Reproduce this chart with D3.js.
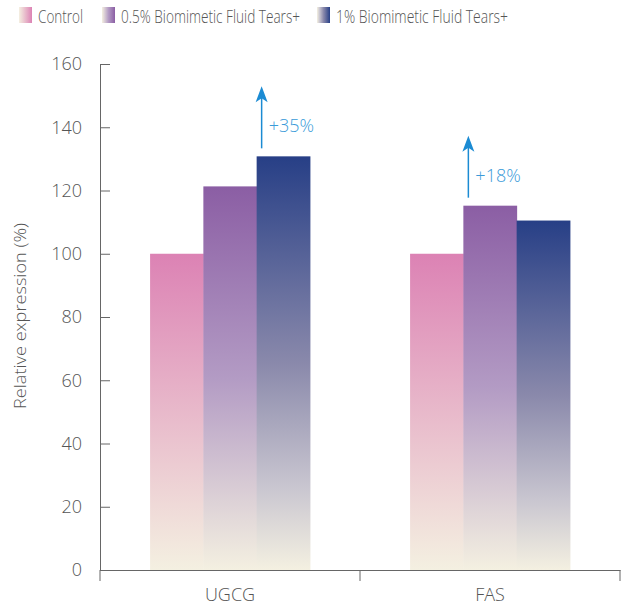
<!DOCTYPE html>
<html>
<head>
<meta charset="utf-8">
<script src="https://cdn.jsdelivr.net/npm/d3@7"></script>
<style>
  body { margin: 0; background: #fff; }
  text { font-family: "Open Sans", "Noto Sans", sans-serif; font-weight: 300; fill: #555; }
</style>
</head>
<body>
<div id="svg"></div>
<script>
var w = 630;
var h = 609;

var categories = ['UGCG', 'FAS'];
var series = ['Control', '0.5% Biomimetic Fluid Tears+', '1% Biomimetic Fluid Tears+'];
var control = [100, 100];
var half = [121.3, 115.2];
var full = [130.8, 110.5];
var yTicks = [0, 20, 40, 60, 80, 100, 120, 140, 160];
// gradient stops per series, top to bottom
var gradStops = [
  [[0, '#dc82b4'], [1, '#f4f0e1']],
  [[0, '#8b5ea4'], [0.5, '#b39bc4'], [1, '#f4f0e1']],
  [[0, '#273f86'], [0.5, '#8a89ab'], [0.8, '#c9c6d0'], [1, '#f4f0e1']]
];
var notes = [
  { cat: 'UGCG', s: 2, label: '+35%' },
  { cat: 'FAS', s: 1, label: '+18%' }
];

var values = [control, half, full];

var border = { top: 64, bottom: 39, left: 100, right: 10 };

const svg = d3.select('#svg')
  .append('svg')
  .attr('width', w)
  .attr('height', h);

var defs = svg.append('defs');
gradStops.forEach((stops, i) => {
  var g = defs.append('linearGradient')
    .attr('id', 'bar' + i)
    .attr('x1', 0).attr('y1', 0).attr('x2', 0).attr('y2', 1);
  stops.forEach(s => g.append('stop').attr('offset', s[0]).attr('stop-color', s[1]));
  var l = defs.append('linearGradient')
    .attr('id', 'leg' + i)
    .attr('x1', 1).attr('y1', 0).attr('x2', 0).attr('y2', 0);
  stops.forEach(s => l.append('stop').attr('offset', s[0]).attr('stop-color', s[1]));
});

// arrow head pointing along +x, oriented by the line
var marker = defs.append('marker')
  .attr('id', 'arrow')
  .attr('viewBox', '-8 -7 18 14')
  .attr('markerWidth', 18).attr('markerHeight', 14)
  .attr('markerUnits', 'userSpaceOnUse')
  .attr('refX', 0).attr('refY', 0)
  .attr('orient', 'auto');
marker.append('path')
  .attr('d', 'M9,0 L-7,6 L-3,0 L-7,-6 Z')
  .attr('fill', '#1b8bd3');

var x0 = d3.scaleBand()
  .domain(categories)
  .range([border.left, w - border.right]);

var x1 = d3.scaleBand()
  .domain(series)
  .range([0, x0.bandwidth()])
  .paddingOuter(0.94);

var y = d3.scaleLinear()
  .domain([0, 160])
  .range([h - border.bottom, border.top]);

// bars
var groups = svg.selectAll('g.group')
  .data(categories)
  .enter()
  .append('g')
  .attr('class', 'group')
  .attr('transform', d => `translate(${x0(d)},0)`);

groups.selectAll('rect')
  .data((c, ci) => series.map((s, si) => ({ s: s, si: si, v: values[si][ci] })))
  .enter()
  .append('rect')
  .attr('x', d => x1(d.s))
  .attr('y', d => y(d.v))
  .attr('width', x1.bandwidth() + 0.5)
  .attr('height', d => y(0) - y(d.v))
  .attr('fill', d => `url(#bar${d.si})`);

// y axis
var yAxis = svg.append('g')
  .attr('transform', `translate(${border.left},0)`)
  .call(d3.axisLeft(y).tickValues(yTicks).tickSize(-10).tickPadding(18).tickSizeOuter(0));
yAxis.selectAll('line').attr('stroke', '#666');
yAxis.select('.domain').attr('stroke', '#666');
yAxis.selectAll('text')
  .style('font-size', '18px')
  .style('font-family', '"Open Sans", sans-serif')
  .attr('fill', '#555');

// x axis
var xAxis = svg.append('g')
  .attr('transform', `translate(0,${y(0)})`)
  .call(d3.axisBottom(x0).tickSize(0).tickPadding(18).tickSizeOuter(0));
xAxis.select('.domain').attr('stroke', '#666');
xAxis.selectAll('text')
  .style('font-size', '18px')
  .style('font-family', '"Open Sans", sans-serif')
  .attr('fill', '#555');

var bounds = [x0(categories[0])].concat(categories.map(c => x0(c) + x0.bandwidth()));
xAxis.selectAll('line.bound')
  .data(bounds)
  .enter()
  .append('line')
  .attr('class', 'bound')
  .attr('x1', d => d).attr('x2', d => d)
  .attr('y1', 0).attr('y2', 11)
  .attr('stroke', '#666');

// y label
svg.append('text')
  .attr('transform', 'rotate(-90)')
  .attr('x', -316)
  .attr('y', 26)
  .attr('text-anchor', 'middle')
  .style('font-size', '17px')
  .attr('textLength', 186)
  .attr('lengthAdjust', 'spacingAndGlyphs')
  .text('Relative expression (%)');

// annotations
notes.forEach(n => {
  var si = n.s;
  var ci = categories.indexOf(n.cat);
  var v = values[si][ci];
  var ax = x0(n.cat) + x1(series[si]) + 5;
  var y0 = y(v) - 8;
  svg.append('line')
    .attr('x1', ax).attr('x2', ax)
    .attr('y1', y0).attr('y2', y0 - 53)
    .attr('stroke', '#1b8bd3')
    .attr('stroke-width', 1.5)
    .attr('marker-end', 'url(#arrow)');
  svg.append('text')
    .attr('x', ax + 7)
    .attr('y', y0 - 16)
    .style('font-size', '18px')
    .style('fill', '#3a9bd9')
    .text(n.label);
});

// legend
var legX = [19, 102, 317];
var legW = [45, 179, 172];
var legend = svg.selectAll('g.legend')
  .data(series)
  .enter()
  .append('g')
  .attr('class', 'legend')
  .attr('transform', (d, i) => `translate(${legX[i]},7)`);
legend.append('rect')
  .attr('width', 13).attr('height', 16)
  .attr('fill', (d, i) => `url(#leg${i})`);
legend.append('text')
  .attr('x', 19)
  .attr('y', 16)
  .style('font-size', '17.5px')
  .attr('textLength', (d, i) => legW[i])
  .attr('lengthAdjust', 'spacingAndGlyphs')
  .text(d => d);
</script>
</body>
</html>
